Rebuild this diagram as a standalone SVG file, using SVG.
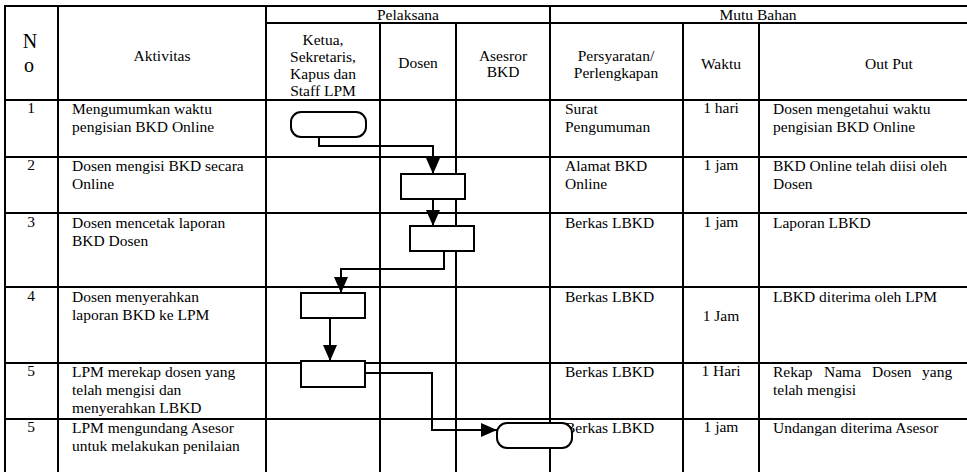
<svg xmlns="http://www.w3.org/2000/svg" width="967" height="472" viewBox="0 0 967 472">
<style>
.t{font-family:"Liberation Serif","Times New Roman",serif;font-size:15.5px;fill:#000}
.c{text-anchor:middle}
.e{text-anchor:end}
.big{font-size:20px}
.grid line{stroke:#000;stroke-width:2}
.shape{fill:#fff;stroke:#000;stroke-width:2}
.conn path{fill:none;stroke:#000;stroke-width:2}
</style>
<defs>
<marker id="ah" markerUnits="userSpaceOnUse" markerWidth="17" markerHeight="14" refX="16" refY="7" orient="auto">
<path d="M0,0 L16,7 L0,14 z" fill="#000"/>
</marker>
</defs>
<rect x="0" y="0" width="967" height="472" fill="#fff"/>
<g id="table" class="grid">
<line x1="4" y1="6" x2="967" y2="6"/>
<line x1="266" y1="23" x2="967" y2="23"/>
<line x1="4" y1="100" x2="967" y2="100"/>
<line x1="4" y1="157" x2="967" y2="157"/>
<line x1="4" y1="213" x2="967" y2="213"/>
<line x1="4" y1="287" x2="967" y2="287"/>
<line x1="4" y1="363" x2="967" y2="363"/>
<line x1="4" y1="419" x2="967" y2="419"/>
<line x1="5" y1="5" x2="5" y2="472"/>
<line x1="58" y1="5" x2="58" y2="472"/>
<line x1="266" y1="5" x2="266" y2="472"/>
<line x1="550" y1="5" x2="550" y2="472"/>
<line x1="380" y1="23" x2="380" y2="472"/>
<line x1="456" y1="23" x2="456" y2="472"/>
<line x1="683" y1="23" x2="683" y2="472"/>
<line x1="759" y1="23" x2="759" y2="472"/>
</g>
<g id="header">
<text class="t c" x="408" y="20">Pelaksana</text>
<text class="t c" x="758" y="20">Mutu Bahan</text>
<text class="t c big" x="30" y="48">N</text>
<text class="t c big" x="29" y="72">o</text>
<text class="t c" x="162" y="61">Aktivitas</text>
<text class="t c" x="323" y="45">Ketua,</text>
<text class="t c" x="323" y="62">Sekretaris,</text>
<text class="t c" x="323" y="79">Kapus dan</text>
<text class="t c" x="323" y="96">Staff LPM</text>
<text class="t c" x="418" y="68">Dosen</text>
<text class="t c" x="503" y="61">Asesror</text>
<text class="t c" x="503" y="77">BKD</text>
<text class="t c" x="616" y="61">Persyaratan/</text>
<text class="t c" x="616" y="78">Perlengkapan</text>
<text class="t c" x="721" y="69">Waktu</text>
<text class="t c" x="889" y="69">Out Put</text>
</g>
<g id="row1">
<text class="t c" x="31" y="113">1</text>
<text class="t" x="72" y="114">Mengumumkan waktu</text>
<text class="t" x="72" y="132">pengisian BKD Online</text>
<text class="t" x="565" y="114">Surat</text>
<text class="t" x="565" y="132">Pengumuman</text>
<text class="t c" x="721" y="113">1 hari</text>
<text class="t" x="773" y="114">Dosen mengetahui waktu</text>
<text class="t" x="773" y="132">pengisian BKD Online</text>
</g>
<g id="row2">
<text class="t c" x="31" y="170">2</text>
<text class="t" x="72" y="171">Dosen mengisi BKD secara</text>
<text class="t" x="72" y="189">Online</text>
<text class="t" x="565" y="171">Alamat BKD</text>
<text class="t" x="565" y="189">Online</text>
<text class="t c" x="721" y="170">1 jam</text>
<text class="t" x="773" y="171">BKD Online telah diisi oleh</text>
<text class="t" x="773" y="189">Dosen</text>
</g>
<g id="row3">
<text class="t c" x="31" y="227">3</text>
<text class="t" x="72" y="228">Dosen mencetak laporan</text>
<text class="t" x="72" y="246">BKD Dosen</text>
<text class="t" x="565" y="228">Berkas LBKD</text>
<text class="t c" x="721" y="227">1 jam</text>
<text class="t" x="773" y="228">Laporan LBKD</text>
</g>
<g id="row4">
<text class="t c" x="31" y="301">4</text>
<text class="t" x="72" y="302">Dosen menyerahkan</text>
<text class="t" x="72" y="320">laporan BKD ke LPM</text>
<text class="t" x="565" y="302">Berkas LBKD</text>
<text class="t c" x="721" y="321">1 Jam</text>
<text class="t" x="773" y="302">LBKD diterima oleh LPM</text>
</g>
<g id="row5">
<text class="t c" x="31" y="376">5</text>
<text class="t" x="72" y="377">LPM merekap dosen yang</text>
<text class="t" x="72" y="395">telah mengisi dan</text>
<text class="t" x="72" y="413">menyerahkan LBKD</text>
<text class="t" x="565" y="377">Berkas LBKD</text>
<text class="t c" x="721" y="376">1 Hari</text>
<text class="t" y="377"><tspan x="773">Rekap</tspan><tspan x="824">Nama</tspan><tspan x="872">Dosen</tspan><tspan x="922">yang</tspan></text>
<text class="t" x="773" y="395">telah mengisi</text>
</g>
<g id="row6">
<text class="t c" x="31" y="432">5</text>
<text class="t" x="72" y="433">LPM mengundang Asesor</text>
<text class="t" x="72" y="451">untuk melakukan penilaian</text>
<text class="t" x="565" y="433">Berkas LBKD</text>
<text class="t c" x="721" y="432">1 jam</text>
<text class="t" x="773" y="433">Undangan diterima Asesor</text>
</g>
<g id="connectors" class="conn">
<path d="M319,137 V146 H433 V174" marker-end="url(#ah)"/>
<path d="M433,199 V226" marker-end="url(#ah)"/>
<path d="M444,251 V269 H341 V293" marker-end="url(#ah)"/>
<path d="M330,318 V361" marker-end="url(#ah)"/>
<path d="M365,373 H432 V430 H497" marker-end="url(#ah)"/>
</g>
<g id="node-start">
<rect class="shape" x="291" y="112" width="75" height="25" rx="10"/>
</g>
<g id="node-isi">
<rect class="shape" x="401" y="174" width="64" height="25"/>
</g>
<g id="node-cetak">
<rect class="shape" x="410" y="226" width="64" height="25"/>
</g>
<g id="node-serah">
<rect class="shape" x="301" y="293" width="64" height="25"/>
</g>
<g id="node-rekap">
<rect class="shape" x="301" y="361" width="64" height="26"/>
</g>
<g id="node-end">
<rect class="shape" x="497" y="423" width="75" height="25" rx="10"/>
</g>
</svg>
